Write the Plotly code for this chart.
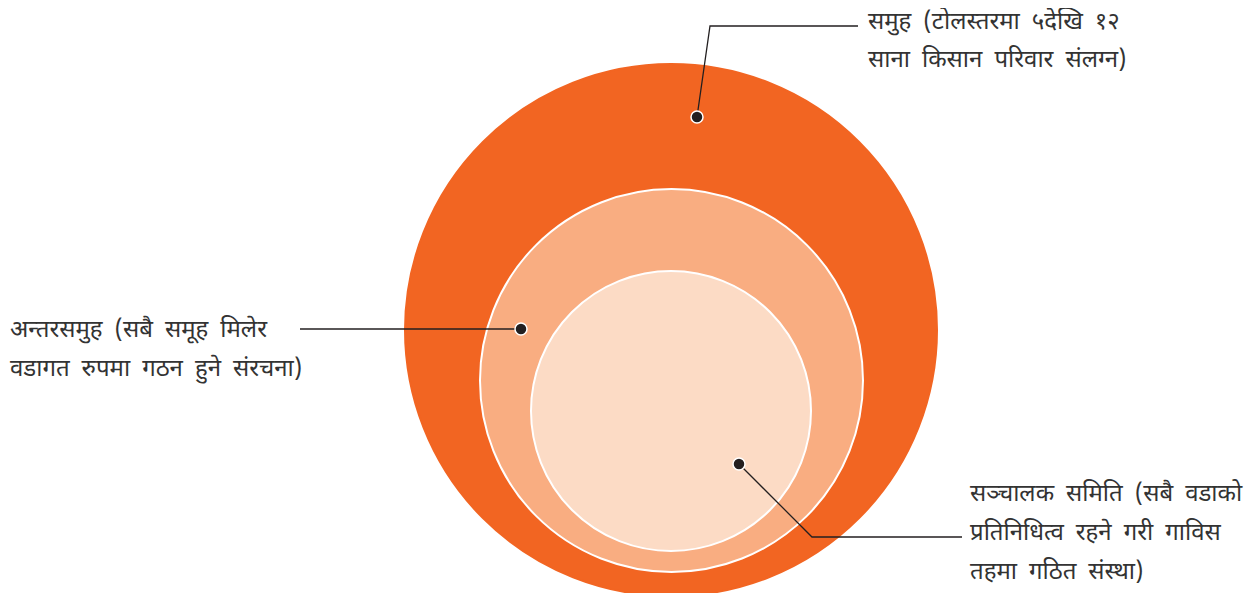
import plotly.graph_objects as go

# Data: nested organisational levels (outer -> inner)
levels = ["समुह", "अन्तरसमुह", "सञ्चालक समिति"]
radii = [266, 191.5, 140]
centers_x = [671, 671.5, 671]
centers_y = [330, 380.5, 411]
fill_colors = ["#F26522", "#F9AD81", "#FCDBC5"]
line_colors = ["#F26522", "#FFFFFF", "#FFFFFF"]

label_lines = [
    ["समुह (टोलस्तरमा ५देखि १२", "साना किसान परिवार संलग्न)"],
    ["अन्तरसमुह (सबै समूह मिलेर", "वडागत रुपमा गठन हुने संरचना)"],
    ["सञ्चालक समिति (सबै वडाको", "प्रतिनिधित्व रहने गरी गाविस", "तहमा गठित संस्था)"],
]
dot_x = [697, 521, 739]
dot_y = [117, 329, 464]
leader_x = [[697, 710, 858], [521, 300], [739, 812, 962]]
leader_y = [[117, 26, 26], [329, 329], [464, 537, 537]]
label_x = [866, 8, 968]
label_y = [[23, 61], [331, 370], [495, 534, 573]]

# page has an 8px body margin; shift the plotting frame to compensate
OFF = 8
W, H = 1258, 593

fig = go.Figure()
shapes = []
for cx, cy, r, fc, lc in zip(centers_x, centers_y, radii, fill_colors, line_colors):
    shapes.append(dict(type="circle", xref="x", yref="y",
                       x0=cx - r, x1=cx + r, y0=cy - r, y1=cy + r,
                       fillcolor=fc, line=dict(color=lc, width=2), layer="below"))

for lx, ly in zip(leader_x, leader_y):
    fig.add_trace(go.Scatter(x=lx, y=ly, mode="lines",
                             line=dict(color="#231F20", width=1.3),
                             hoverinfo="skip", showlegend=False))

fig.add_trace(go.Scatter(x=dot_x, y=dot_y, mode="markers",
                         marker=dict(size=12, color="#231F20",
                                     line=dict(color="#FFFFFF", width=1.5)),
                         hoverinfo="skip", showlegend=False))

for lines, x, ys in zip(label_lines, label_x, label_y):
    for t, y in zip(lines, ys):
        fig.add_annotation(x=x, y=y, xref="x", yref="y",
                           text=t.replace(" ", "\u2002"), showarrow=False,
                           xanchor="left", yanchor="middle", align="left",
                           font=dict(size=24, color="#333333",
                                     family="Noto Sans Devanagari, Lohit Devanagari, Noto Sans, sans-serif"))

fig.update_layout(
    width=W - OFF, height=H - OFF,
    margin=dict(l=0, r=0, t=0, b=0),
    paper_bgcolor="white", plot_bgcolor="white",
    shapes=shapes,
    xaxis=dict(range=[OFF, W], visible=False, fixedrange=True),
    yaxis=dict(range=[H, OFF], visible=False, fixedrange=True),
)
fig.write_html("out.html")
